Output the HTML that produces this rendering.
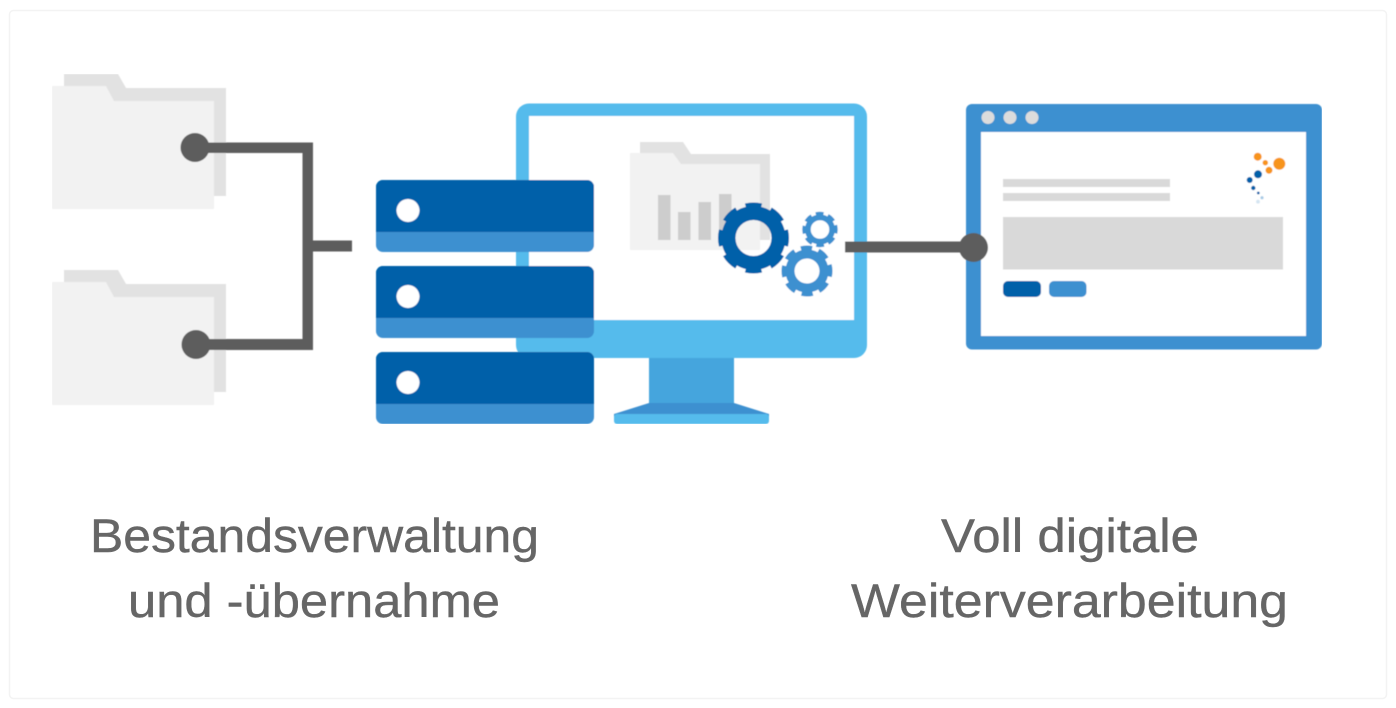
<!DOCTYPE html>
<html lang="de"><head><meta charset="utf-8"><title>Bestandsverwaltung und digitale Weiterverarbeitung</title>
<style>html,body{margin:0;padding:0;background:#fff;width:1396px;height:708px;overflow:hidden}svg{display:block}</style></head>
<body>
<svg xmlns="http://www.w3.org/2000/svg" width="1396" height="708" viewBox="0 0 1396 708">
<rect x="0" y="0" width="1396" height="708" fill="#fff"/>
<rect x="9.5" y="10.5" width="1377" height="688" rx="4" fill="#fff" stroke="#f3f3f3" stroke-width="1.5"/>
<g filter="url(#b)">
<defs>
<filter id="b" x="0" y="0" width="100%" height="100%"><feGaussianBlur stdDeviation="0.5"/></filter>
<g id="folder">
<path d="M64 74H118L126 88H226V196H64Z" fill="#e2e2e2"/>
<path d="M52 86H106L114 101H214V209H52Z" fill="#f2f2f2"/>
</g>
<g id="server">
<rect x="376" y="180" width="218" height="72" rx="7" fill="#3c90d0"/>
<path d="M376 232V187a7 7 0 0 1 7-7H587a7 7 0 0 1 7 7V232Z" fill="#0460a9"/>
<circle cx="408" cy="210.500" r="11.500" fill="#fff"/>
</g>
</defs>
<use href="#folder"/>
<use href="#folder" y="196"/>
<!-- left connector -->
<g fill="#5d5d5d">
<circle cx="195" cy="147.500" r="14.500"/>
<circle cx="196" cy="344.500" r="14.500"/>
<rect x="195" y="142.500" width="118" height="10.500"/>
<rect x="196" y="339" width="117" height="11"/>
<rect x="302.500" y="142.500" width="10.500" height="207.500"/>
<rect x="302.500" y="240.500" width="49.500" height="11"/>
</g>
<!-- monitor -->
<path d="M649 356H734V404H649Z" fill="#45a5dd"/>
<path d="M649 403H734L769 414V417H614V414Z" fill="#3c90d0"/>
<rect x="614" y="414" width="155" height="10" rx="3" fill="#55bbec"/>
<rect x="516" y="103.500" width="351" height="254.500" rx="13" fill="#55bbec"/>
<rect x="529" y="116" width="325" height="204" fill="#fff"/>
<path d="M640 142H683L691 154H770V240H640Z" fill="#e2e2e2"/>
<path d="M630 153H673L681 164H760V250H630Z" fill="#f2f2f2"/>
<g fill="#cdcdcd">
<rect x="658" y="195" width="12.500" height="45"/>
<rect x="678" y="212" width="12.500" height="28"/>
<rect x="698.500" y="202" width="12.500" height="38"/>
<rect x="719" y="194" width="12.500" height="46"/>
</g>
<!-- gears -->
<g fill="none">
<circle cx="753.500" cy="238" r="25" stroke="#0460a9" stroke-width="14"/>
<circle cx="753.500" cy="238" r="31.750" stroke="#0460a9" stroke-width="7.500" pathLength="16" stroke-dasharray="1.250 0.750" stroke-dashoffset="0.625"/>
<circle cx="807" cy="271" r="17" stroke="#3c90d0" stroke-width="9"/>
<circle cx="807" cy="271" r="22.250" stroke="#3c90d0" stroke-width="6.500" pathLength="16" stroke-dasharray="1.250 0.750" stroke-dashoffset="0.625"/>
<circle cx="820" cy="229.500" r="12.150" stroke="#3c90d0" stroke-width="5.700"/>
<circle cx="820" cy="229.500" r="15.350" stroke="#3c90d0" stroke-width="4.700" pathLength="16" stroke-dasharray="1.250 0.750" stroke-dashoffset="0.625"/>
</g>
<!-- servers -->
<use href="#server"/>
<use href="#server" y="86"/>
<use href="#server" y="172"/>
<!-- browser -->
<rect x="966" y="104" width="356" height="245.500" rx="6" fill="#3c90d0"/>
<rect x="981" y="132" width="325" height="204" fill="#fff"/>
<g fill="#dcdcdc">
<circle cx="988" cy="117.500" r="6.500"/>
<circle cx="1010" cy="117.500" r="6.500"/>
<circle cx="1032" cy="117.500" r="6.500"/>
</g>
<g fill="#d9d9d9">
<rect x="1003" y="179" width="167" height="8"/>
<rect x="1003" y="193" width="167" height="8"/>
<rect x="1003" y="217" width="280" height="52.500"/>
</g>
<rect x="1003" y="281" width="38" height="16" rx="5" fill="#0460a9"/>
<rect x="1049" y="281" width="37.500" height="16" rx="5" fill="#3c90d0"/>
<!-- logo -->
<g fill="#f7941d">
<circle cx="1257.700" cy="156.700" r="4"/>
<circle cx="1279.300" cy="163.700" r="6"/>
<circle cx="1265.300" cy="162.700" r="2.700"/>
<circle cx="1269" cy="170.300" r="3.500"/>
</g>
<g fill="#0460a9">
<circle cx="1258" cy="174.300" r="4"/>
<circle cx="1249.700" cy="180" r="3"/>
<circle cx="1253.300" cy="188" r="2.200"/>
<circle cx="1258.300" cy="193" r="1.400"/>
</g>
<circle cx="1262" cy="197.700" r="1.600" fill="#a9cbe6"/>
<circle cx="1258" cy="201.700" r="1.900" fill="#d5e5f2"/>
<!-- right connector -->
<rect x="845" y="241.500" width="128" height="11" fill="#5d5d5d"/>
<circle cx="973.500" cy="247.500" r="14.500" fill="#5d5d5d"/>
</g>
<g font-family="'Liberation Sans',sans-serif" font-size="47" fill="#666" stroke="#666" stroke-width="0.4">
<text x="90" y="552" textLength="449" lengthAdjust="spacingAndGlyphs">Bestandsverwaltung</text>
<text x="128" y="617" textLength="372" lengthAdjust="spacingAndGlyphs">und -übernahme</text>
<text x="941" y="552" textLength="258" lengthAdjust="spacingAndGlyphs">Voll digitale</text>
<text x="851" y="617" textLength="437" lengthAdjust="spacingAndGlyphs">Weiterverarbeitung</text>
</g>
</svg>
</body></html>
